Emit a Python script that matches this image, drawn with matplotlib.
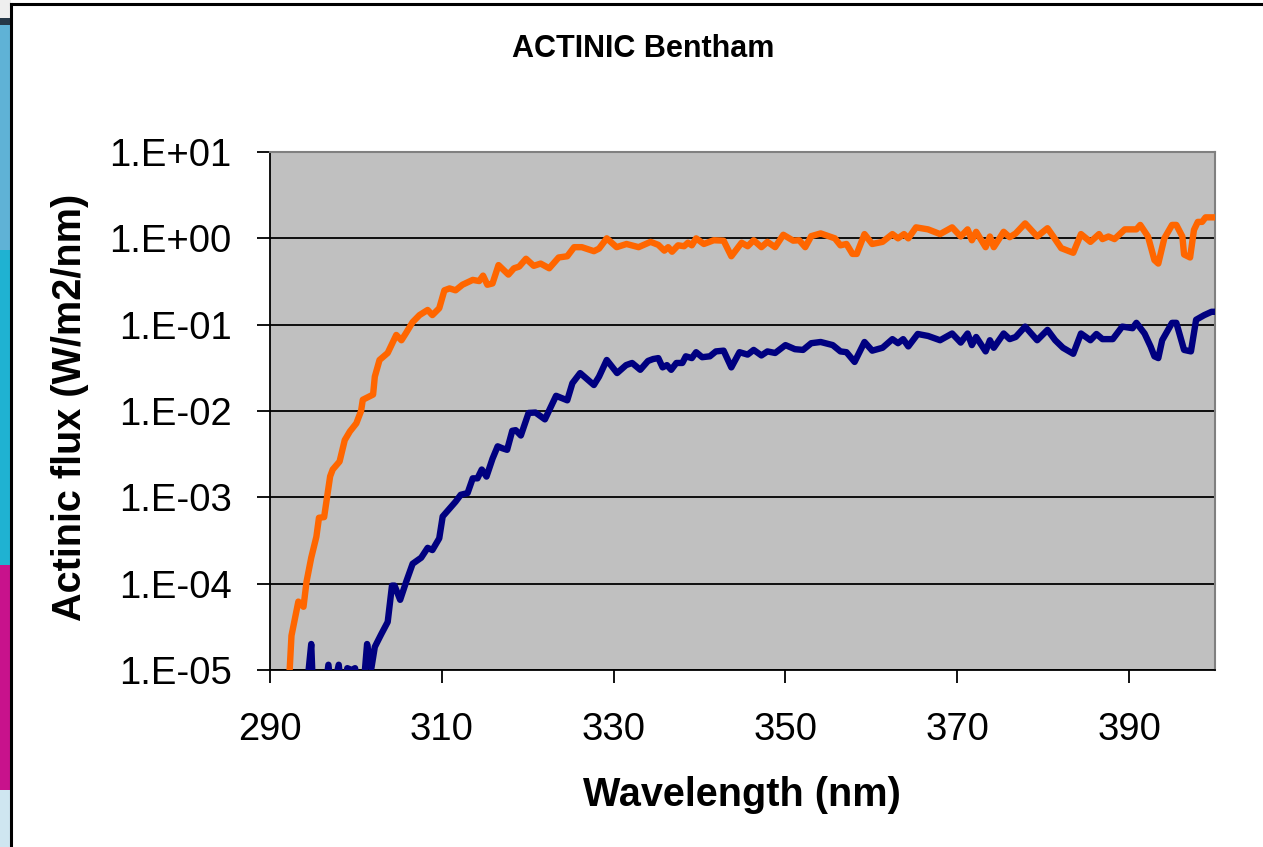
import matplotlib
matplotlib.use("Agg")
import matplotlib.pyplot as plt
from matplotlib.patches import Rectangle
from matplotlib.lines import Line2D
from matplotlib.ticker import FixedLocator, FuncFormatter, NullLocator
import numpy as np

plt.rcParams['font.family'] = ['Liberation Sans', 'DejaVu Sans']

title = "ACTINIC Bentham"
xlabel = "Wavelength (nm)"
ylabel = "Actinic flux (W/m2/nm)"
x_ticks = [290, 310, 330, 350, 370, 390]
y_ticks = [1e-5, 1e-4, 1e-3, 1e-2, 1e-1, 1e0, 1e1]
y_tick_labels = ["1.E-05", "1.E-04", "1.E-03", "1.E-02", "1.E-01", "1.E+00", "1.E+01"]

orange_wl = [292.2, 292.3, 292.5, 293.3, 293.9, 294.25, 294.8, 295.4, 295.7, 296.3,
             297.0, 297.3, 298.1, 298.7, 299.3, 300.05, 300.6, 300.8, 302.0, 302.2,
             302.75, 303.7, 304.7, 305.3, 305.8, 306.6, 307.4, 308.35, 308.9, 309.7,
             310.3, 310.9, 311.6, 312.4, 313.6, 314.35, 314.8, 315.3, 315.9, 316.6,
             317.75, 318.4, 319.0, 319.8, 320.7, 321.5, 322.5, 323.6, 324.6, 325.4,
             326.3, 327.7, 328.3, 329.2, 330.35, 331.5, 332.1, 332.9, 334.3, 335.2,
             335.9, 336.35, 336.8, 337.5, 338.2, 338.65, 339.1, 339.6, 340.5, 341.65,
             342.8, 343.7, 344.9, 345.6, 346.3, 347.2, 347.9, 348.8, 349.75, 350.9,
             351.6, 352.3, 353.0, 354.1, 355.75, 356.4, 357.1, 357.8, 358.3, 359.2,
             360.1, 361.3, 362.45, 363.1, 363.8, 364.3, 365.2, 366.6, 368.0, 369.4,
             370.4, 371.2, 371.7, 372.2, 373.3, 373.8, 374.25, 375.4, 376.1, 376.8,
             377.9, 379.3, 380.5, 381.15, 382.1, 383.5, 384.4, 385.5, 386.5, 386.9,
             387.6, 388.3, 389.5, 390.85, 391.3, 392.2, 392.95, 393.4, 394.1, 395.0,
             395.5, 396.2, 396.4, 397.1, 397.55, 398.0, 398.5, 398.9, 400.0]
orange_flux = [8.0e-6, 1.05e-5, 2.5e-5, 6.2e-5, 5.4e-5, 1.05e-4, 2.0e-4, 3.5e-4, 5.8e-4, 5.9e-4,
               1.75e-3, 2.1e-3, 2.6e-3, 4.6e-3, 5.8e-3, 7.2e-3, 1.0e-2, 1.35e-2, 1.55e-2, 2.5e-2,
               3.9e-2, 4.7e-2, 7.6e-2, 6.6e-2, 7.9e-2, 0.107, 0.129, 0.148, 0.129, 0.155,
               0.25, 0.263, 0.25, 0.29, 0.33, 0.32, 0.37, 0.29, 0.30, 0.49,
               0.38, 0.45, 0.47, 0.58, 0.48, 0.51, 0.45, 0.60, 0.62, 0.79,
               0.79, 0.71, 0.76, 1.0, 0.79, 0.86, 0.83, 0.79, 0.91, 0.84,
               0.72, 0.79, 0.70, 0.83, 0.81, 0.89, 0.83, 1.0, 0.86, 0.95,
               0.94, 0.62, 0.89, 0.81, 0.95, 0.79, 0.91, 0.79, 1.10, 0.94,
               0.95, 0.79, 1.06, 1.14, 1.0, 0.83, 0.86, 0.66, 0.66, 1.12,
               0.86, 0.91, 1.12, 1.0, 1.12, 1.0, 1.34, 1.27, 1.12, 1.34,
               1.05, 1.27, 0.95, 1.19, 0.79, 1.05, 0.79, 1.19, 1.03, 1.14,
               1.49, 1.05, 1.31, 1.06, 0.77, 0.68, 1.12, 0.91, 1.12, 0.98,
               1.05, 0.98, 1.27, 1.27, 1.43, 1.05, 0.56, 0.51, 1.0, 1.43,
               1.43, 1.05, 0.65, 0.60, 1.25, 1.55, 1.55, 1.75, 1.75]

navy_wl = [294.3, 294.45, 294.8, 295.0, 296.2, 296.8, 297.2, 298.0, 298.4, 299.0,
           299.5, 299.9, 300.4, 300.8, 301.3, 301.8, 302.2, 302.95, 303.7, 304.2,
           304.5, 305.15, 305.85, 306.6, 307.6, 308.35, 308.9, 309.7, 310.1, 310.9,
           311.6, 312.2, 313.0, 313.6, 314.15, 314.65, 315.2, 315.9, 316.5, 317.05,
           317.6, 318.2, 318.6, 319.2, 320.1, 320.9, 322.0, 322.75, 323.3, 324.6,
           325.2, 326.1, 327.7, 328.3, 329.2, 330.4, 331.45, 332.15, 333.1, 334.0,
           334.6, 335.2, 335.7, 336.2, 336.7, 337.3, 338.0, 338.4, 339.1, 339.6,
           340.3, 341.2, 341.9, 342.8, 343.7, 344.65, 345.6, 346.3, 347.2, 347.9,
           348.8, 350.0, 351.1, 352.05, 353.0, 354.1, 355.5, 356.4, 357.1, 358.05,
           359.2, 360.1, 361.3, 362.45, 363.1, 363.7, 364.3, 365.4, 366.6, 368.0,
           369.4, 370.4, 371.2, 371.7, 372.2, 373.3, 373.8, 374.25, 375.4, 376.1,
           376.8, 377.9, 379.3, 380.5, 381.4, 382.3, 383.5, 384.4, 385.5, 386.2,
           386.9, 388.1, 389.2, 390.4, 390.85, 391.8, 392.5, 392.95, 393.4, 393.85,
           395.0, 395.5, 396.4, 397.2, 397.8, 398.75, 399.6, 400.0]
navy_flux = [4e-6, 9e-6, 2.0e-5, 6e-6, 4e-6, 1.15e-5, 5e-6, 1.15e-5, 5e-6, 1.05e-5,
             1.0e-5, 1.05e-5, 5e-6, 5e-6, 2.0e-5, 1.05e-5, 1.85e-5, 2.6e-5, 3.6e-5, 9.5e-5,
             9.5e-5, 6.5e-5, 1.05e-4, 1.7e-4, 2.0e-4, 2.6e-4, 2.45e-4, 3.35e-4, 6.0e-4, 7.4e-4,
             8.9e-4, 1.07e-3, 1.12e-3, 1.66e-3, 1.66e-3, 2.1e-3, 1.74e-3, 2.8e-3, 3.9e-3, 3.7e-3,
             3.55e-3, 5.9e-3, 6.0e-3, 5.2e-3, 9.5e-3, 9.6e-3, 8.0e-3, 1.15e-2, 1.5e-2, 1.33e-2,
             2.1e-2, 2.75e-2, 2.0e-2, 2.5e-2, 3.9e-2, 2.75e-2, 3.4e-2, 3.6e-2, 3.0e-2, 3.8e-2,
             4.0e-2, 4.1e-2, 3.2e-2, 3.4e-2, 3.0e-2, 3.6e-2, 3.6e-2, 4.3e-2, 4.1e-2, 4.8e-2,
             4.2e-2, 4.3e-2, 4.9e-2, 5.0e-2, 3.2e-2, 4.8e-2, 4.5e-2, 5.1e-2, 4.4e-2, 4.9e-2,
             4.7e-2, 5.8e-2, 5.2e-2, 5.1e-2, 6.1e-2, 6.3e-2, 5.8e-2, 4.9e-2, 4.8e-2, 3.7e-2,
             6.3e-2, 5.0e-2, 5.4e-2, 6.8e-2, 6.1e-2, 6.8e-2, 5.6e-2, 7.8e-2, 7.4e-2, 6.6e-2,
             7.9e-2, 6.2e-2, 7.9e-2, 5.8e-2, 7.2e-2, 4.9e-2, 6.6e-2, 5.4e-2, 7.9e-2, 6.8e-2,
             7.2e-2, 9.5e-2, 6.6e-2, 8.7e-2, 6.6e-2, 5.4e-2, 4.6e-2, 7.9e-2, 6.6e-2, 7.8e-2,
             6.8e-2, 6.8e-2, 9.5e-2, 9.1e-2, 0.105, 7.9e-2, 5.6e-2, 4.3e-2, 4.1e-2, 6.6e-2,
             0.105, 0.105, 5.1e-2, 4.9e-2, 0.114, 0.129, 0.141, 0.141]

W, H = 1263, 847
fig = plt.figure(figsize=(W / 100, H / 100), dpi=100)
fig.patch.set_facecolor('white')

# decorative left strip (background image edge)
strip = [(0, 18, '#eeeeee'), (18, 25, '#263848'), (25, 250, '#5fb2d6'),
         (250, 565, '#1fb2d2'), (565, 790, '#c8128c'), (790, 847, '#cfe6f0')]
for y0, y1, c in strip:
    fig.patches.append(Rectangle((0, 1 - y1 / H), 11 / W, (y1 - y0) / H,
                                 transform=fig.transFigure, facecolor=c,
                                 edgecolor='none', zorder=0))
fig.lines.append(Line2D([11 / W, 11 / W], [0, 1 - 4 / H], transform=fig.transFigure,
                        color='black', lw=2.2))
fig.lines.append(Line2D([11 / W, 1], [1 - 4 / H, 1 - 4 / H], transform=fig.transFigure,
                        color='black', lw=2.2))

ax = fig.add_axes([270 / W, 1 - 670 / H, (1215 - 270) / W, (670 - 152) / H])
ax.set_facecolor('#c0c0c0')
ax.set_yscale('log')
ax.set_xlim(290, 400)
ax.set_ylim(1e-5, 10)

ax.plot(orange_wl, orange_flux, color='#ff6600', lw=4.6, solid_joinstyle='round',
        solid_capstyle='round', zorder=3)
ax.plot(navy_wl, navy_flux, color='#000080', lw=4.6, solid_joinstyle='round',
        solid_capstyle='round', zorder=3)

ax.yaxis.set_major_locator(FixedLocator(y_ticks))
ax.yaxis.set_minor_locator(NullLocator())
ax.yaxis.set_major_formatter(FuncFormatter(lambda v, p: y_tick_labels[int(round(np.log10(v))) + 5]))
ax.xaxis.set_major_locator(FixedLocator(x_ticks))
ax.grid(axis='y', color='black', lw=1.3, zorder=1)
ax.set_axisbelow(True)

for s in ['left', 'bottom']:
    ax.spines[s].set_color('black')
    ax.spines[s].set_linewidth(1.3)
for s in ['top', 'right']:
    ax.spines[s].set_color('#808080')
    ax.spines[s].set_linewidth(1.5)

ax.tick_params(axis='both', direction='out', length=9.5, width=1.3, labelsize=27.5,
               colors='black')
ax.tick_params(axis='y', pad=18)
ax.tick_params(axis='x', pad=21)

fig.text(643 / W, 1 - 49 / H, title, ha='center', va='center', fontsize=22,
         fontweight='bold')
fig.text(742 / W, 1 - 795 / H, xlabel, ha='center', va='center', fontsize=28.5,
         fontweight='bold')
fig.text(70 / W, 1 - 407 / H, ylabel, ha='center', va='center', fontsize=28.5,
         fontweight='bold', rotation=90)

fig.savefig('out.png', dpi=100, facecolor='white')
